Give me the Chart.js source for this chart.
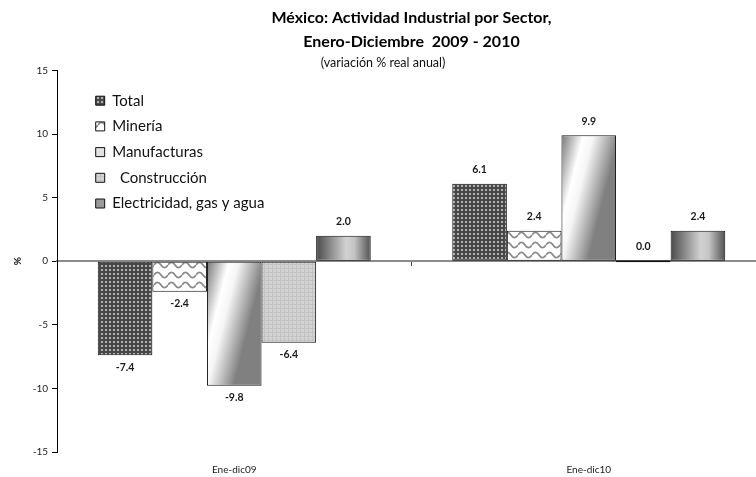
<!DOCTYPE html>
<html lang="es">
<head>
<meta charset="utf-8">
<title>México: Actividad Industrial por Sector</title>
<script src="https://cdn.jsdelivr.net/npm/chart.js@4.4.1/dist/chart.umd.min.js"></script>
<style>
    html, body { margin: 0; padding: 0; background: #fff; overflow: hidden; }
    #caja { width: 766px; height: 477px; }
</style>
</head>
<body>
<div id="caja"><canvas id="grafica"></canvas></div>
<script>
// datos (variacion % real anual)
const categorias = ['Ene-dic09', 'Ene-dic10'];
const sectores = ['Total', 'Minería', 'Manufacturas', '  Construcción', 'Electricidad, gas y agua'];
const total = [-7.4, 6.1];
const mineria = [-2.4, 2.4];
const manufacturas = [-9.8, 9.9];
const construccion = [-6.4, 0.0];
const electricidad = [2.0, 2.4];
const marcasY = [-15, -10, -5, 0, 5, 10, 15];

const canvas = document.getElementById('grafica');
const ctx = canvas.getContext('2d');

// tramas de relleno, se dibujan en un canvas chico y se repiten
function trama(w, h, dibujar) {
    const c = document.createElement('canvas');
    c.width = w;
    c.height = h;
    dibujar(c.getContext('2d'), w, h);
    return ctx.createPattern(c, 'repeat');
}
const tramaTotal = trama(4, 4, (g) => {
    g.fillStyle = '#484848';
    g.fillRect(0, 0, 4, 4);
    g.fillStyle = '#b0b0b0';
    g.fillRect(1, 1, 2, 2);
});
const tramaMineria = trama(14, 10, (g, w, h) => {
    g.fillStyle = '#ffffff';
    g.fillRect(0, 0, w, h);
    g.strokeStyle = '#8a8a8a';
    g.lineWidth = 1.8;
    g.beginPath();
    g.moveTo(0, 5);
    g.bezierCurveTo(2.3, 1.5, 4.7, 1.5, 7, 5);
    g.bezierCurveTo(9.3, 8.5, 11.7, 8.5, 14, 5);
    g.stroke();
});
const tramaConstruccion = trama(4, 4, (g) => {
    g.fillStyle = '#d3d3d3';
    g.fillRect(0, 0, 4, 4);
    g.fillStyle = '#c3c3c3';
    g.fillRect(0, 0, 4, 1);
    g.fillRect(0, 0, 1, 4);
});

// degradados por barra, dependen de la posicion de cada barra
const degradados = {
    manufacturas(c, el) {
        const x0 = el.x - el.width / 2;
        const x1 = el.x + el.width / 2;
        const arriba = Math.min(el.y, el.base);
        const g = c.createLinearGradient(x0, arriba, x1, arriba + el.width * 0.25);
        g.addColorStop(0, '#767676');
        g.addColorStop(0.38, '#ffffff');
        g.addColorStop(0.55, '#f6f6f6');
        g.addColorStop(1, '#808080');
        return g;
    },
    electricidad(c, el) {
        const x0 = el.x - el.width / 2;
        const x1 = el.x + el.width / 2;
        const g = c.createLinearGradient(x0, 0, x1, 0);
        g.addColorStop(0, '#4a4a4a');
        g.addColorStop(0.55, '#d2d2d2');
        g.addColorStop(0.7, '#c4c4c4');
        g.addColorStop(1, '#505050');
        return g;
    }
};

const rellenoDegradado = {
    id: 'rellenoDegradado',
    beforeDatasetsDraw(chart) {
        chart.data.datasets.forEach((ds, i) => {
            if (!ds.degradado) return;
            chart.getDatasetMeta(i).data.forEach((el) => {
                el.options = Object.assign({}, el.options, {
                    backgroundColor: degradados[ds.degradado](chart.ctx, el)
                });
            });
        });
    }
};

// la leyenda va dentro del area de la grafica, arriba a la izquierda
const leyendaDentro = {
    id: 'leyendaDentro',
    afterLayout(chart) {
        const l = chart.legend;
        const area = chart.chartArea;
        const w = l.width;
        const h = l.height;
        l.left = area.left + 28;
        l.top = area.top + 12;
        l.right = l.left + w;
        l.bottom = l.top + h;
    }
};

const etiquetasValores = {
    id: 'etiquetasValores',
    afterDatasetsDraw(chart) {
        const c = chart.ctx;
        c.save();
        c.font = 'bold 10.5px Lato';
        c.fillStyle = '#1a1a1a';
        c.textAlign = 'center';
        c.textBaseline = 'middle';
        chart.data.datasets.forEach((ds, i) => {
            chart.getDatasetMeta(i).data.forEach((el, j) => {
                const v = ds.data[j];
                const y = v < 0 ? Math.max(el.y, el.base) + 12 : Math.min(el.y, el.base) - 14;
                c.fillText(v.toFixed(1), el.x, y);
            });
        });
        c.restore();
    }
};

Chart.defaults.font.family = 'Lato';
Chart.defaults.color = '#222';

const comunes = {
    borderColor: '#111',
    borderWidth: 1,
    borderSkipped: false,
    categoryPercentage: 0.77,
    barPercentage: 1,
    xAxisID: 'x',
    yAxisID: 'y'
};

new Chart(canvas, {
    type: 'bar',
    data: {
        labels: categorias,
        datasets: [
            { ...comunes, label: sectores[0], data: total, backgroundColor: tramaTotal },
            { ...comunes, label: sectores[1], data: mineria, backgroundColor: tramaMineria },
            { ...comunes, label: sectores[2], data: manufacturas, backgroundColor: '#e2e2e2', degradado: 'manufacturas' },
            { ...comunes, label: sectores[3], data: construccion, backgroundColor: tramaConstruccion, minBarLength: 2 },
            { ...comunes, label: sectores[4], data: electricidad, backgroundColor: '#9a9a9a', degradado: 'electricidad' }
        ]
    },
    options: {
        responsive: true,
        maintainAspectRatio: false,
        animation: false,
        layout: { padding: { left: 0, right: 0, top: 0, bottom: 1 } },
        plugins: {
            title: {
                display: true,
                text: ['México: Actividad Industrial por Sector,', 'Enero-Diciembre  2009 - 2010'],
                fullSize: false,
                color: '#000',
                font: { size: 16, weight: 'bold', lineHeight: 1.5 },
                padding: { top: 6, bottom: 0 }
            },
            subtitle: {
                display: true,
                text: '(variación % real anual)',
                color: '#111',
                font: { size: 12.5, lineHeight: 1.2 },
                padding: { top: 1.5, bottom: 0 }
            },
            legend: {
                position: 'chartArea',
                align: 'start',
                labels: {
                    boxWidth: 9,
                    boxHeight: 9,
                    padding: 10.7,
                    color: '#111',
                    font: { size: 15 }
                }
            },
            tooltip: { enabled: false }
        },
        scales: {
            x: {
                type: 'category',
                position: { y: 0 },
                offset: true,
                afterFit: (s) => { s.height = 0; },
                grid: { offset: true, drawOnChartArea: false, drawTicks: true, tickLength: 4, color: '#444' },
                border: { display: true, color: '#8c8c8c', width: 2 },
                ticks: { display: false }
            },
            x2: {
                type: 'category',
                position: 'bottom',
                offset: true,
                afterFit: (s) => { s.height = 24; },
                grid: { display: false, drawTicks: false },
                border: { display: false },
                ticks: { font: { size: 10 }, color: '#222', padding: 12 }
            },
            y: {
                position: 'left',
                min: marcasY[0],
                max: marcasY[marcasY.length - 1],
                afterBuildTicks: (s) => { s.ticks = marcasY.map((v) => ({ value: v })); },
                afterFit: (s) => { s.width = 57; },
                grid: { drawOnChartArea: false, drawTicks: true, tickLength: 5, color: '#000' },
                border: { display: true, color: '#000', width: 1 },
                ticks: { font: { size: 10 }, color: '#222', padding: 4 },
                title: {
                    display: true,
                    text: '%',
                    color: '#111',
                    font: { size: 10, weight: 'bold' },
                    padding: { top: 12, bottom: 0 }
                }
            }
        }
    },
    plugins: [rellenoDegradado, leyendaDentro, etiquetasValores]
});
</script>
</body>
</html>
